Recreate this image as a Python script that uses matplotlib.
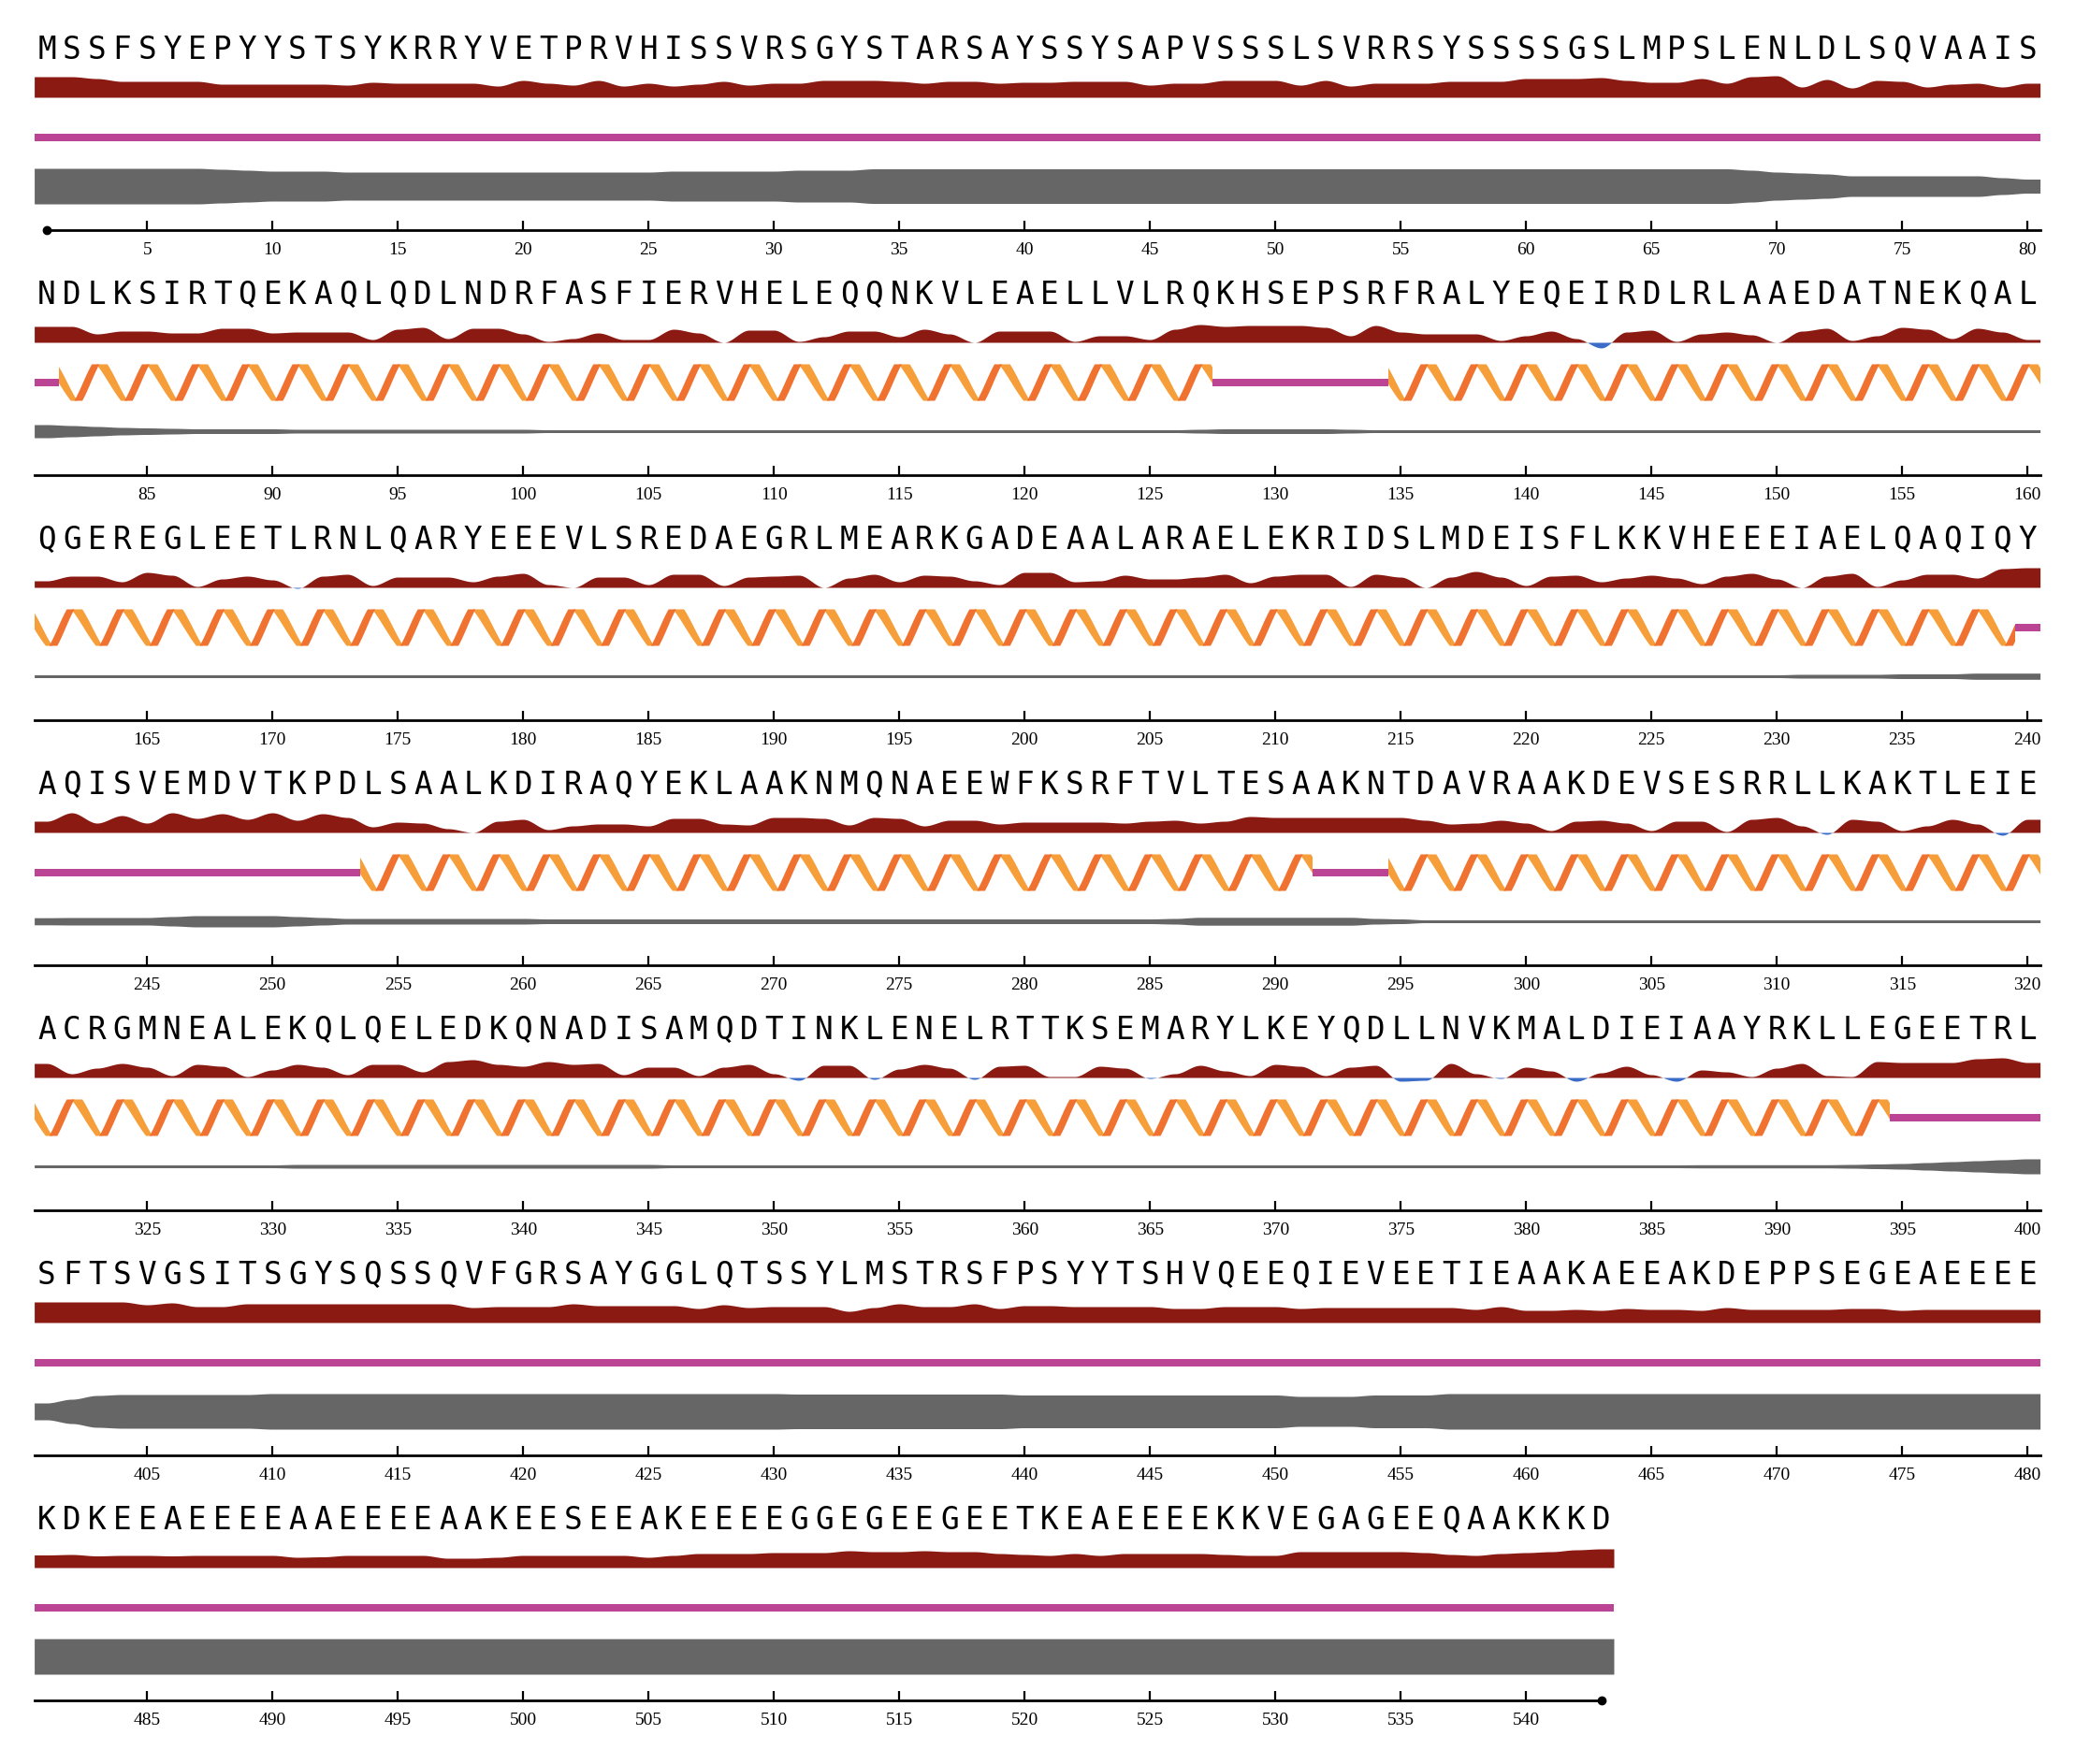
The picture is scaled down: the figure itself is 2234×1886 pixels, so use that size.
import numpy as np
import matplotlib.pyplot as plt
from matplotlib.patches import Polygon, Rectangle

# sequence, 80 residues per row
seq_rows = [
    "MSSFSYEPYYSTSYKRRYVETPRVHISSVRSGYSTARSAYSSYSAPVSSSLSVRRSYSSSSGSLMPSLENLDLSQVAAIS",
    "NDLKSIRTQEKAQLQDLNDRFASFIERVHELEQQNKVLEAELLVLRQKHSEPSRFRALYEQEIRDLRLAAEDATNEKQAL",
    "QGEREGLEETLRNLQARYEEEVLSREDAEGRLMEARKGADEAALARAELEKRIDSLMDEISFLKKVHEEEIAELQAQIQY",
    "AQISVEMDVTKPDLSAALKDIRAQYEKLAAKNMQNAEEWFKSRFTVLTESAAKNTDAVRAAKDEVSESRRLLKAKTLEIE",
    "ACRGMNEALEKQLQELEDKQNADISAMQDTINKLENELRTTKSEMARYLKEYQDLLNVKMALDIEIAAYRKLLEGEETRL",
    "SFTSVGSITSGYSQSSQVFGRSAYGGLQTSSYLMSTRSFPSYYTSHVQEEQIEVEETIEAAKAEEAKDEPPSEGEAEEEE",
    "KDKEEAEEEEAAEEEEAAKEESEEAKEEEEGGEGEEGEETKEAEEEEKKVEGAGEEQAAKKKD",
]

# top track (dark red above baseline, blue below)
red1 = [22,22,20,17,17,17,17,14,14,14, 14,14,13,16,15,15,15,15,12,18,
        15,13,18,12,15,12,14,17,13,15, 15,18,18,18,17,15,17,17,15,16,
        16,17,17,17,13,15,15,18,18,18, 13,18,12,15,15,15,17,17,17,20,
        20,20,21,18,16,16,20,15,22,23, 11,19,10,18,17,11,14,15,11,15]
red2 = [17,17,9,12,12,10,10,15,15,10, 11,11,11,3,14,16,4,15,15,9,
        1,4,10,3,3,14,10,0,13,13, 1,6,12,12,6,14,9,0,12,12,
        12,1,7,7,3,14,19,17,18,18, 18,16,7,18,11,9,9,9,2,7,
        12,4,-6,11,13,1,9,11,8,0, 12,15,2,7,16,14,4,15,11,3]
red3 = [7,12,12,6,16,13,1,9,12,8, -1,12,14,2,11,11,11,6,12,15,
        3,0,11,11,3,14,14,2,11,12, 13,0,10,14,6,13,12,7,3,16,
        16,6,7,13,9,9,11,14,5,12, 14,14,1,14,11,0,11,17,11,2,
        12,13,6,10,13,10,4,12,15,9, 0,12,15,1,8,14,14,10,20,21]
red4 = [12,21,10,18,10,21,15,20,14,21, 13,20,16,6,11,10,4,0,12,14,
        3,7,9,9,7,15,15,9,8,16, 16,15,8,16,15,7,13,13,9,11,
        11,11,11,10,12,13,10,12,17,16, 16,16,16,16,16,13,9,10,13,10,
        2,12,13,10,2,12,12,1,14,16, 7,-2,14,12,2,7,14,9,-3,14]
red5 = [15,4,10,15,11,2,14,12,1,8, 14,11,3,14,14,6,17,19,14,12,
        17,14,15,3,11,11,2,11,14,4, -3,13,13,-2,9,14,10,-2,12,13,
        1,1,12,10,-1,4,13,7,2,14, 12,2,11,13,-4,-3,15,4,-1,11,
        7,-4,5,12,3,-4,8,6,1,10, 15,2,1,17,16,16,16,20,21,16]
red6 = [22,22,22,22,19,21,17,17,20,20, 20,20,20,20,20,20,20,16,17,17,
        17,20,18,18,18,18,15,19,16,17, 17,17,12,16,20,17,17,20,15,18,
        18,17,17,17,17,15,15,17,17,17, 15,16,16,16,16,16,16,14,17,13,
        13,14,13,15,14,14,13,16,14,14, 14,14,15,15,13,14,14,14,14,14]
red7 = [13.5,14,12.5,13,13,12.5,13,13,13,13, 11,11.5,13,13,13,13,10,10,11,13,
        13,13,13,13,11,13,15,15,15,16, 16,16,18,17,17,18,17,17,15,14,
        13,15,13,15,15,15,15,14,13,13, 17,17,17,17,17,16,14,13,15,16,
        17,19,20]
red_rows = [red1, red2, red3, red4, red5, red6, red7]

# bottom track (grey band half width)
gray1 = [19,19,19,19,19,19,19,18,17,16, 16,16,15,15,15,15,15,15,15,15,
         15,15,15,15,15,16,16,16,16,16, 17,17,17,18.5,18.5,18.5,18.5,18.5,18.5,18.5,
         18.5,18.5,18.5,18.5,18.5,18.5,18.5,18.5,18.5,18.5, 18.5,18.5,18.5,18.5,18.5,18.5,18.5,18.5,18.5,18.5,
         18.5,18.5,18.5,18.5,18.5,18.5,18.5,18.5,17,15, 14,13,11,11,11,11,11,11,9,7.5]
gray2 = [7,6,5,4,3.5,3,2.5,2.5,2.5,2.5] + [2]*10 + [1.5]*26 + [2,2.5,2.5,2.5,2.5,2.5,2] + [1.5]*27
gray3 = [1.5]*70 + [2,2,2,2,2.5,2.5,2.5,3.3,3.3,3.3]
gray4 = [3.8,4,4,4,4,5,6,6,6,6, 5,4,3,3,3,3,3,3,3,3] + [2.5]*25 + [3,4.2,4.2,4.2,4.2,4.2,4.2,4.2,3,2.5] + [1.5]*25
gray5 = [1.5]*10 + [2]*15 + [1.5]*41 + [1.7]*6 + [2,2.5,3,4,5,6,7,8]
gray6 = [9,13,17,18,18,18,18,18,18] + [19]*21 + [18.5]*9 + [17.5]*11 + [16,16,16,17.5,17.5,17.5] + [19]*24
gray7 = [19]*63
gray_rows = [gray1, gray2, gray3, gray4, gray5, gray6, gray7]

helix_segments = [(82, 127), (135, 239), (254, 291), (295, 394)]

RED = "#8B1A12"
BLUE = "#3B6CC8"
MAGENTA = "#BC4494"
GRAY = "#666666"
ORANGE_D = "#F07230"
ORANGE_L = "#F59E3A"

# layout in pixels
W, H = 2234, 1886
ROW_H = 262
X0 = 36.6
RES_W = 26.8
Y_LETTER = 63
Y_RED = 104
Y_HEL = 147
HEL_TOP, HEL_BOT = 127.5, 166.5
Y_GRAY = 199
Y_AXIS = 246


def smooth(start, vals, xd):
    vals = np.asarray(vals, dtype=float)
    pos = np.clip(xd - start, 0, len(vals) - 1)
    i = np.minimum(np.floor(pos).astype(int), len(vals) - 2)
    t = pos - i
    s = t * t * (3 - 2 * t)
    return vals[i] * (1 - s) + vals[i + 1] * s


def stroke(xb0, xb1, xt0, xt1, k=16):
    # ribbon piece from the bottom edge [xb0, xb1] to the top edge [xt0, xt1]
    t = np.linspace(0, 1, k)
    f = 0.85 * t + 0.15 * (1 - np.cos(np.pi * t)) / 2
    yy = HEL_BOT + (HEL_TOP - HEL_BOT) * f
    left = np.column_stack([xb0 + (xt0 - xb0) * t, yy])
    right = np.column_stack([xb1 + (xt1 - xb1) * t, yy])
    return np.vstack([left, right[::-1]])


fig = plt.figure(figsize=(W / 100, H / 100), dpi=100)
fig.patch.set_facecolor("white")

total = sum(len(r) for r in seq_rows)

for k, row_seq in enumerate(seq_rows):
    n = len(row_seq)
    start = 80 * k + 1
    end = start + n - 1
    ax = fig.add_axes([X0 / W, 1 - (k + 1) * ROW_H / H, 80 * RES_W / W, ROW_H / H])
    ax.set_xlim(start - 0.5, start + 79.5)
    ax.set_ylim(ROW_H, 0)
    ax.patch.set_visible(False)
    for s in ["top", "left", "right"]:
        ax.spines[s].set_visible(False)
    ax.set_yticks([])

    # letters
    for j, ch in enumerate(row_seq):
        ax.text(start + j, Y_LETTER, ch, ha="center", va="baseline",
                family="DejaVu Sans Mono", fontsize=23.5)

    xd = np.linspace(start - 0.5, end + 0.5, n * 24 + 1)

    # red / blue track
    h = smooth(start, red_rows[k], xd)
    ax.fill_between(xd, Y_RED, Y_RED - np.maximum(h, 0), color=RED, lw=0)
    ax.fill_between(xd, Y_RED, Y_RED - np.minimum(h, 0), color=BLUE, lw=0)

    # grey track
    g = smooth(start, gray_rows[k], xd)
    ax.fill_between(xd, Y_GRAY - g, Y_GRAY + g, color=GRAY, lw=0)

    # coil segments
    in_helix = np.zeros(n, dtype=bool)
    for a, b in helix_segments:
        for r in range(max(a, start), min(b, end) + 1):
            in_helix[r - start] = True
    j = 0
    while j < n:
        if not in_helix[j]:
            j2 = j
            while j2 + 1 < n and not in_helix[j2 + 1]:
                j2 += 1
            ax.fill_between([start + j - 0.5, start + j2 + 0.5], Y_HEL - 3.8, Y_HEL + 3.8,
                            color=MAGENTA, lw=0)
            j = j2 + 1
        else:
            j += 1

    # helices
    P = 2.0
    for a, b in helix_segments:
        a2, b2 = max(a, start), min(b, end)
        if a2 > b2:
            continue
        xs_, xe = a2 - 0.5, b2 + 0.5
        clip = Rectangle((xs_, HEL_TOP - 5), xe - xs_, HEL_BOT - HEL_TOP + 10,
                         transform=ax.transData)
        origin = xs_ + 0.3 * P
        nper = int(np.ceil((xe - origin) / P)) + 1
        lights, darks = [], []
        for m in range(-1, nper):
            o = origin + m * P
            lights.append(stroke(o + 0.93 * P, o + 1.06 * P, o + 0.44 * P, o + 0.66 * P))
            darks.append(stroke(o, o + 0.16 * P, o + 0.35 * P, o + 0.50 * P))
        for pts in lights:
            p = Polygon(pts, closed=True, color=ORANGE_L, lw=0)
            ax.add_patch(p)
            p.set_clip_path(clip)
        for pts in darks:
            p = Polygon(pts, closed=True, color=ORANGE_D, lw=0)
            ax.add_patch(p)
            p.set_clip_path(clip)

    # position axis
    sp = ax.spines["bottom"]
    sp.set_position(("data", Y_AXIS))
    sp.set_linewidth(2)
    lo = 1 if start == 1 else start - 0.5
    hi = total if end == total else start + 79.5
    sp.set_bounds(lo, hi)
    first = ((start + 4) // 5) * 5
    ax.set_xticks(range(first, end + 1, 5))
    ax.tick_params(axis="x", direction="in", length=7, width=1.6, pad=9,
                   labelsize=14, labelfontfamily="Liberation Serif")
    if start == 1:
        ax.plot([1], [Y_AXIS], "o", color="black", ms=6, clip_on=False)
    if end == total:
        ax.plot([total], [Y_AXIS], "o", color="black", ms=6, clip_on=False)

fig.savefig("out.png", dpi=100, facecolor="white")
